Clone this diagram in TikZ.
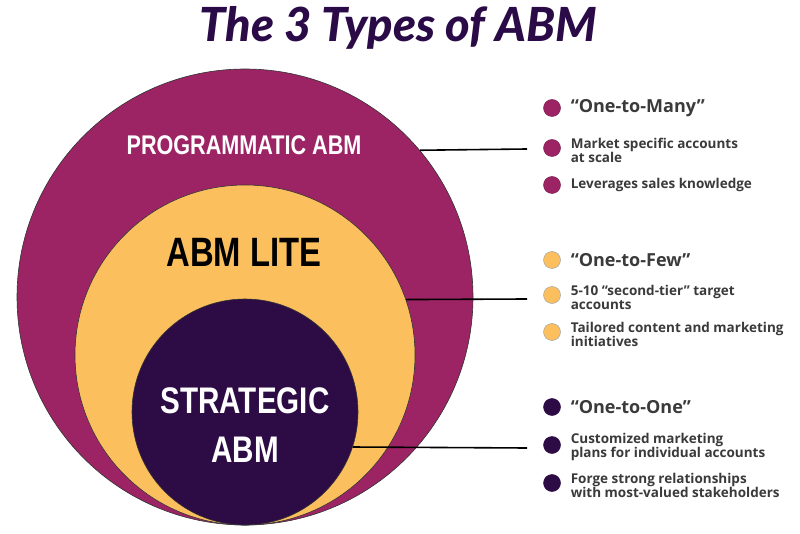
\documentclass[tikz,border=0pt]{standalone}
\usepackage{fontspec}
\usepackage{xcolor}
\setmainfont{Open Sans}
\newfontfamily\titlefont{Lato}[BoldItalicFont={Lato Black Italic}]
\newfontfamily\ringfont{Liberation Sans}[FakeStretch=0.8]
\definecolor{progmag}{HTML}{9C2465}
\definecolor{litegold}{HTML}{FBBF5E}
\definecolor{stratpurp}{HTML}{2D0C45}
\definecolor{listink}{HTML}{3A3A3A}
\definecolor{titleink}{HTML}{2A0B47}

\begin{document}
\begin{tikzpicture}[x=1pt,y=-1pt,
  ring/.style={circle, draw=black!80, line width=0.6pt, inner sep=0pt},
  ringlabel/.style={inner sep=0pt},
  dot/.style={circle, inner sep=0pt, minimum size=17pt, line width=0.5pt},
  head/.style={font=\bfseries\fontsize{18}{20}\selectfont, text=listink, inner sep=0pt, anchor=west},
  item/.style={font=\bfseries\fontsize{13.5}{14}\selectfont, text=listink, inner sep=0pt, anchor=west, align=left},
  every path/.style={line width=1.6pt}]
\useasboundingbox[fill=white] (0,0) rectangle (800,534);
% title
\node[font=\titlefont\bfseries\itshape\fontsize{47}{50}\selectfont, text=titleink] (title) at (398,28) {The 3 Types of ABM};
% nested circles
\node[ring, fill=progmag, minimum size=456pt] (outer) at (245,297) {};
\node[ring, fill=litegold, minimum size=340pt] (middle) at (245,355) {};
\node[ring, fill=stratpurp, minimum size=226pt] (inner) at (245,412) {};
\node[ringlabel, text=white, font=\ringfont\bfseries\fontsize{27}{30}\selectfont] (lprog) at (244,145) {PROGRAMMATIC ABM};
\node[ringlabel, text=black, font=\ringfont\bfseries\fontsize{41}{44}\selectfont] (llite) at (244,252) {ABM LITE};
\node[ringlabel, text=white, font=\ringfont\bfseries\fontsize{37}{49}\selectfont, align=center] (lstrat) at (245,425) {STRATEGIC\\ABM};
% line ends
\coordinate (e1) at (527,149);
\coordinate (e2) at (527,299);
\coordinate (e3) at (527,448);
\draw (outer.40.5) -- (e1);
\draw (middle.19.2) -- (e2);
\draw (inner.-18.6) -- (e3);
% one-to-many
\node[dot, fill=progmag, draw=progmag!80!black] (d1) at (552,108) {};
\node[dot, fill=progmag, draw=progmag!80!black] (d2) at (552,148) {};
\node[dot, fill=progmag, draw=progmag!80!black] (d3) at (552,185) {};
\node[head] (t1) at (570,108) {“One-to-Many”};
\node[item] (t2) at (570,150) {Market specific accounts\\at scale};
\node[item] (t3) at (570,185) {Leverages sales knowledge};
% one-to-few
\node[dot, fill=litegold, draw=gray!70] (d4) at (552,260) {};
\node[dot, fill=litegold, draw=gray!70] (d5) at (552,295) {};
\node[dot, fill=litegold, draw=gray!70] (d6) at (552,332) {};
\node[head] (t4) at (570,260) {“One-to-Few”};
\node[item] (t5) at (570,297) {5-10 “second-tier” target\\accounts};
\node[item] (t6) at (570,334) {Tailored content and marketing\\initiatives};
% one-to-one
\node[dot, fill=stratpurp, draw=stratpurp] (d7) at (552,407) {};
\node[dot, fill=stratpurp, draw=stratpurp] (d8) at (552,445) {};
\node[dot, fill=stratpurp, draw=stratpurp] (d9) at (552,483) {};
\node[head] (t7) at (570,407) {“One-to-One”};
\node[item] (t8) at (570,447) {Customized marketing\\plans for individual accounts};
\node[item] (t9) at (570,485) {Forge strong relationships\\with most-valued stakeholders};
\end{tikzpicture}
\end{document}
